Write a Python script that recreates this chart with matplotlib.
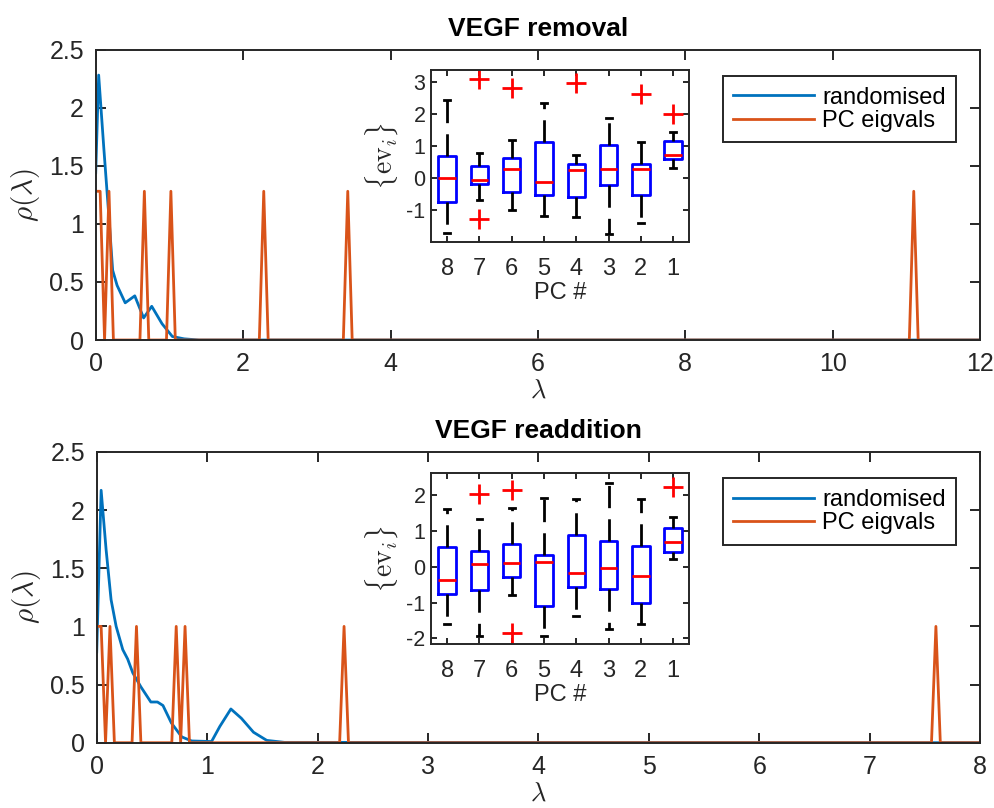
import numpy as np
import matplotlib
matplotlib.use("Agg")
from matplotlib import pyplot as plt

plt.rcParams['font.family'] = ['Liberation Sans', 'DejaVu Sans']
plt.rcParams['mathtext.fontset'] = 'cm'
plt.rcParams['axes.unicode_minus'] = False

BLUE = '#0072BD'
ORANGE = '#D95319'
AXC = '#262626'

# ---- top panel: VEGF removal ----
rem_lam = [0, 0.04, 0.11, 0.18, 0.23, 0.29, 0.40, 0.53, 0.65, 0.76, 0.90, 1.04, 1.2, 1.4, 12]
rem_rho = [1.44, 2.28, 1.65, 1.05, 0.60, 0.47, 0.32, 0.38, 0.19, 0.29, 0.14, 0.03, 0.01, 0.0, 0.0]
rem_eigs = [0, 0.06, 0.18, 0.66, 1.02, 2.28, 3.42, 11.10]
rem_height = 1.28
rem_step = 0.06

# ---- bottom panel: VEGF readdition ----
add_lam = [0, 0.04, 0.085, 0.13, 0.176, 0.236, 0.28, 0.327, 0.40, 0.49, 0.55, 0.60,
           0.676, 0.77, 0.86, 1.04, 1.115, 1.215, 1.31, 1.42, 1.54, 1.7, 8]
add_rho = [0.78, 2.17, 1.66, 1.23, 1.0, 0.80, 0.72, 0.60, 0.48, 0.35, 0.35, 0.32,
           0.17, 0.05, 0.015, 0.01, 0.14, 0.29, 0.21, 0.09, 0.02, 0.003, 0.0]
add_eigs = [0, 0.04, 0.12, 0.36, 0.72, 0.80, 2.26, 7.60]
add_height = 1.0
add_step = 0.04

# ---- inset boxplots (PC 8 .. 1, left to right) ----
pc_labels = ['8', '7', '6', '5', '4', '3', '2', '1']
# whislo, q1, med, q3, whishi, outliers
rem_box = [
    (-1.69, -0.73, 0.00, 0.70, 2.44, []),
    (-0.67, -0.19, -0.05, 0.38, 0.80, [3.08, -1.27]),
    (-0.99, -0.42, 0.29, 0.62, 1.19, [2.80]),
    (-1.17, -0.51, -0.12, 1.13, 2.34, []),
    (-1.20, -0.57, 0.26, 0.45, 0.73, [2.96]),
    (-1.72, -0.20, 0.29, 1.03, 1.89, []),
    (-1.40, -0.51, 0.28, 0.45, 1.14, [2.63]),
    (0.33, 0.61, 0.73, 1.15, 1.45, [1.99]),
]
add_box = [
    (-1.60, -0.76, -0.37, 0.55, 1.61, []),
    (-1.93, -0.64, 0.08, 0.44, 1.33, [2.03]),
    (-0.79, -0.29, 0.10, 0.64, 1.65, [2.16, -1.86]),
    (-1.93, -1.11, 0.13, 0.33, 1.94, []),
    (-1.38, -0.57, -0.18, 0.88, 1.91, []),
    (-1.75, -0.63, -0.04, 0.72, 2.35, []),
    (-1.60, -1.02, -0.26, 0.58, 1.91, []),
    (0.21, 0.41, 0.69, 1.10, 1.40, [2.24]),
]


def spikes(eigs, height, step, xmax):
    grid = np.arange(0, xmax + step / 2, step)
    vals = np.zeros_like(grid)
    for e in eigs:
        vals[int(round(e / step))] = height
    return grid, vals


def style_axes(ax, size=18, pad=8.5):
    for s in ax.spines.values():
        s.set_color(AXC)
        s.set_linewidth(1.4)
    ax.tick_params(direction='in', top=True, right=True, colors=AXC,
                   labelcolor=AXC, labelsize=size, length=7, width=1.4, pad=pad)


def main_panel(ax, lam, rho, eigs, h, step, xmax, title):
    ax.plot(lam, rho, color=BLUE, lw=2, label='randomised')
    gx, gy = spikes(eigs, h, step, xmax)
    ax.plot(gx, gy, color=ORANGE, lw=2, label='PC eigvals')
    ax.set_xlim(0, xmax)
    ax.set_ylim(0, 2.5)
    ax.set_yticks([0, 0.5, 1, 1.5, 2, 2.5])
    ax.set_yticklabels(['0', '0.5', '1', '1.5', '2', '2.5'])
    ax.set_xlabel(r'$\lambda$', fontsize=19, color=AXC, labelpad=2)
    ax.set_ylabel(r'$\rho(\lambda)$', fontsize=21, color=AXC, labelpad=5)
    ax.set_title(title, fontsize=19, fontweight='bold', pad=10)
    style_axes(ax)
    leg = ax.legend(loc='upper right', bbox_to_anchor=(0.973, 0.909), fontsize=17,
                    handlelength=3.4, borderpad=0.45, labelspacing=0.05,
                    handletextpad=0.35, borderaxespad=0, fancybox=False, framealpha=1)
    leg.get_frame().set_edgecolor(AXC)
    leg.get_frame().set_linewidth(1.4)


def inset_panel(ax, boxes, ylim, yticks):
    stats = []
    for lo, q1, med, q3, hi, out in boxes:
        stats.append(dict(whislo=lo, q1=q1, med=med, q3=q3, whishi=hi, fliers=out))
    pos = np.arange(1, len(stats) + 1)
    ax.bxp(stats, positions=pos, widths=0.54, showfliers=True,
           boxprops=dict(color='blue', lw=2),
           medianprops=dict(color='red', lw=2),
           whiskerprops=dict(color='black', lw=2, linestyle=(0, (8, 4))),
           capprops=dict(color='black', lw=2),
           capwidths=0.18,
           flierprops=dict(marker='+', markeredgecolor='red', markersize=15,
                           markeredgewidth=2, linestyle='none'))
    ax.set_xlim(0.5, 8.5)
    ax.set_ylim(*ylim)
    ax.set_yticks(yticks)
    ax.set_xticks(pos)
    ax.set_xticklabels(pc_labels)
    ax.set_xlabel('PC #', fontsize=17, color=AXC, labelpad=2)
    ax.set_ylabel(r'$\{\mathrm{ev}_i\}$', fontsize=20, color=AXC, labelpad=4)
    style_axes(ax, size=15.5, pad=4)
    ax.tick_params(axis='x', pad=11, labelsize=17)
    ax.tick_params(length=4)


fig = plt.figure(figsize=(9.95, 8.08), dpi=100)

ax1 = fig.add_axes([0.0962, 0.5792, 0.8888, 0.3595])
main_panel(ax1, rem_lam, rem_rho, rem_eigs, rem_height, rem_step, 12, 'VEGF removal')
ax1.set_xticks([0, 2, 4, 6, 8, 10, 12])

ax2 = fig.add_axes([0.0972, 0.0808, 0.8878, 0.3599])
main_panel(ax2, add_lam, add_rho, add_eigs, add_height, add_step, 8, 'VEGF readdition')
ax2.set_xticks(range(0, 9))

in1 = fig.add_axes([0.4332, 0.7001, 0.2596, 0.2133])
inset_panel(in1, rem_box, (-1.99, 3.37), [-1, 0, 1, 2, 3])

in2 = fig.add_axes([0.4332, 0.2026, 0.2596, 0.2116])
inset_panel(in2, add_box, (-2.17, 2.62), [-2, -1, 0, 1, 2])

fig.savefig('out.png', dpi=100)
